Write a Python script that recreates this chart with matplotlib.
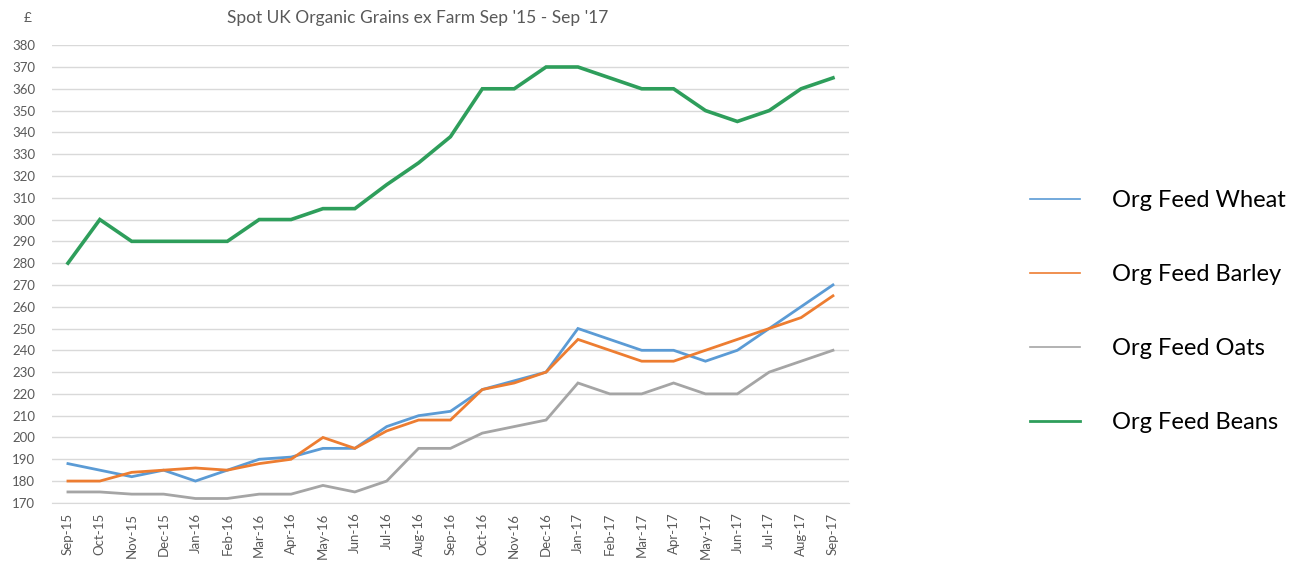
import matplotlib
matplotlib.use("Agg")
import matplotlib.pyplot as plt

plt.rcParams['font.family'] = ['Lato', 'DejaVu Sans']

months = ["Sep-15", "Oct-15", "Nov-15", "Dec-15", "Jan-16", "Feb-16", "Mar-16",
          "Apr-16", "May-16", "Jun-16", "Jul-16", "Aug-16", "Sep-16", "Oct-16",
          "Nov-16", "Dec-16", "Jan-17", "Feb-17", "Mar-17", "Apr-17", "May-17",
          "Jun-17", "Jul-17", "Aug-17", "Sep-17"]

wheat = [188, 185, 182, 185, 180, 185, 190, 191, 195, 195, 205, 210, 212,
         222, 226, 230, 250, 245, 240, 240, 235, 240, 250, 260, 270]
barley = [180, 180, 184, 185, 186, 185, 188, 190, 200, 195, 203, 208, 208,
          222, 225, 230, 245, 240, 235, 235, 240, 245, 250, 255, 265]
oats = [175, 175, 174, 174, 172, 172, 174, 174, 178, 175, 180, 195, 195,
        202, 205, 208, 225, 220, 220, 225, 220, 220, 230, 235, 240]
beans = [280, 300, 290, 290, 290, 290, 300, 300, 305, 305, 316, 326, 338,
         360, 360, 370, 370, 365, 360, 360, 350, 345, 350, 360, 365]

series = [
    ("Org Feed Wheat", wheat, "#5B9BD5", 2.0),
    ("Org Feed Barley", barley, "#ED7D31", 2.0),
    ("Org Feed Oats", oats, "#A5A5A5", 2.0),
    ("Org Feed Beans", beans, "#2E9E5B", 2.6),
]

fig = plt.figure(figsize=(13, 5.65), dpi=100)
ax = fig.add_axes([0.04, 0.110, 0.613, 0.810])

x = range(len(months))
for name, vals, color, lw in series:
    ax.plot(x, vals, color=color, linewidth=lw, label=name,
            solid_joinstyle="miter")

ax.set_xlim(-0.5, len(months) - 0.5)
ax.set_ylim(170, 380)
ax.set_yticks(range(170, 381, 10))
ax.set_xticks(list(x))
ax.set_xticklabels(months, rotation=90)
ax.tick_params(axis="both", length=0, labelsize=9.5, labelcolor="#595959")
ax.tick_params(axis="y", pad=12)
ax.tick_params(axis="x", pad=7)
ax.grid(axis="y", color="#D9D9D9", linewidth=1)
ax.set_axisbelow(True)
for s in ["top", "right", "left"]:
    ax.spines[s].set_visible(False)
ax.spines["bottom"].set_color("#D9D9D9")

fig.text(0.321, 0.968, "Spot UK Organic Grains ex Farm Sep '15 - Sep '17",
         ha="center", va="center", fontsize=12.5, color="#595959")
fig.text(0.021, 0.968, "£", ha="center", va="center", fontsize=10, color="#595959")

leg_handles = []
for name, vals, color, lw in series:
    h, = ax.plot([], [], color=color, linewidth=1.2 if lw < 2.5 else 2.0)
    leg_handles.append(h)
fig.legend(leg_handles, [s[0] for s in series], loc="upper left",
           bbox_to_anchor=(0.792, 0.664), frameon=False, fontsize=17,
           handlelength=2.12, handletextpad=1.36, labelspacing=2.25,
           borderpad=0, borderaxespad=0)

fig.savefig("out.png", dpi=100)
